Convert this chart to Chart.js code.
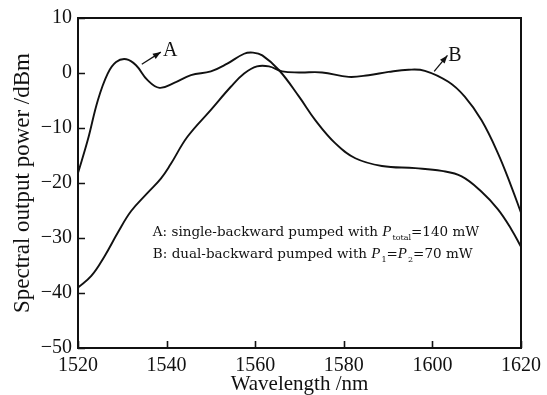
<!DOCTYPE html>
<html>
<head>
<meta charset="utf-8">
<script src="https://cdn.jsdelivr.net/npm/chart.js@4/dist/chart.umd.min.js"></script>
<style>
  html, body { margin: 0; padding: 0; background: #fff; }
  #wrap { width: 547px; height: 395px; position: relative; }
</style>
</head>
<body>
<div id="wrap"><canvas id="c" width="547" height="395"></canvas></div>
<script>
// ---- data ----
const wavelengthA = [1520, 1522.2, 1524.5, 1526.7, 1528.6, 1530.9, 1533.1, 1535.7, 1538.4, 1541.7, 1545.5, 1550, 1553.7, 1557.5, 1559.5, 1561.6, 1565.4, 1569.9, 1573.6, 1578.1, 1582.6, 1588.6, 1596.1, 1602.1, 1606.6, 1611.1, 1614.8, 1617.8, 1620];
const powerA      = [-18.2, -12.2, -4.9, -0.1, 2.0, 2.5, 1.4, -1.3, -2.7, -1.8, -0.4, 0.3, 1.7, 3.5, 3.7, 3.2, 0.5, -4.3, -8.6, -12.8, -15.5, -16.9, -17.3, -17.8, -18.8, -21.6, -24.8, -28.4, -31.6];
const wavelengthB = [1520, 1523, 1526, 1529, 1532, 1535.7, 1538.7, 1540.9, 1544.7, 1550, 1554.5, 1557.5, 1560.4, 1563.1, 1566.1, 1569.9, 1575.1, 1581.1, 1585.6, 1590.1, 1594.6, 1598.3, 1603.6, 1607.3, 1611.1, 1614.8, 1617.8, 1620];
const powerB      = [-39.0, -36.9, -33.3, -29.0, -25.1, -21.8, -19.2, -16.6, -11.6, -6.7, -2.5, -0.1, 1.2, 1.2, 0.3, 0.1, 0.1, -0.7, -0.4, 0.2, 0.6, 0.4, -1.6, -4.3, -8.6, -14.6, -20.6, -25.4];
const xTicks = [1520, 1540, 1560, 1580, 1600, 1620];
const yTicks = [10, 0, -10, -20, -30, -40, -50];
const xTitle = 'Wavelength /nm';
const yTitle = 'Spectral output power /dBm';
// annotation anchors in data units: [label, label x, label y, arrow tail x, tail y, arrow head x, head y]
const labelA = ['A', 1540.8, 4.2, 1534.4, 1.6, 1538.7, 3.8];
const labelB = ['B', 1605.1, 3.4, 1600.4, 0.3, 1603.4, 3.2];
const legendLines = [
  { pre: 'A: single-backward pumped with ', parts: [['P', 'total']], post: '=140 mW', x: 1536.9, y: -28.8 },
  { pre: 'B: dual-backward pumped with ', parts: [['P', '1'], '=', ['P', '2']], post: '=70 mW', x: 1536.9, y: -32.8 }
];

const SERIF = '"Liberation Serif", "DejaVu Serif", serif';
const SERIF2 = '"DejaVu Serif", "Liberation Serif", serif';
const toPts = (xs, ys) => xs.map((x, i) => ({ x: x, y: ys[i] }));
const fmt = v => String(v).replace('-', '\u2212');

const framePlugin = {
  id: 'frame',
  afterDatasetsDraw(chart) {
    const { ctx, chartArea: a, scales: { x, y } } = chart;
    ctx.save();
    ctx.strokeStyle = '#111';
    ctx.lineWidth = 2;
    ctx.strokeRect(a.left, a.top, a.right - a.left, a.bottom - a.top);
    ctx.lineWidth = 1.6;
    ctx.beginPath();
    xTicks.forEach(t => {
      const px = Math.round(x.getPixelForValue(t)) + 0.5;
      ctx.moveTo(px, a.bottom); ctx.lineTo(px, a.bottom - 7);
    });
    yTicks.forEach(t => {
      const py = Math.round(y.getPixelForValue(t)) + 0.5;
      ctx.moveTo(a.left, py); ctx.lineTo(a.left + 7, py);
    });
    ctx.stroke();

    // arrow labels
    ctx.fillStyle = '#111';
    [labelA, labelB].forEach(l => {
      const lx = x.getPixelForValue(l[1]), ly = y.getPixelForValue(l[2]);
      const tx = x.getPixelForValue(l[3]), ty = y.getPixelForValue(l[4]);
      const hx = x.getPixelForValue(l[5]), hy = y.getPixelForValue(l[6]);
      ctx.font = '20px ' + SERIF;
      ctx.textAlign = 'center';
      ctx.textBaseline = 'middle';
      ctx.fillText(l[0], lx, ly + 1);
      ctx.lineWidth = 1.3;
      ctx.beginPath(); ctx.moveTo(tx, ty); ctx.lineTo(hx, hy); ctx.stroke();
      const ang = Math.atan2(hy - ty, hx - tx);
      const L = 8, W = 3;
      ctx.beginPath();
      ctx.moveTo(hx, hy);
      ctx.lineTo(hx - L * Math.cos(ang) + W * Math.sin(ang), hy - L * Math.sin(ang) - W * Math.cos(ang));
      ctx.lineTo(hx - L * Math.cos(ang) - W * Math.sin(ang), hy - L * Math.sin(ang) + W * Math.cos(ang));
      ctx.closePath(); ctx.fill();
    });

    // legend text
    ctx.textAlign = 'left';
    ctx.textBaseline = 'alphabetic';
    legendLines.forEach(line => {
      let px = x.getPixelForValue(line.x);
      const py = y.getPixelForValue(line.y) + 5;
      ctx.font = '13.5px ' + SERIF2;
      ctx.fillText(line.pre, px, py); px += ctx.measureText(line.pre).width;
      line.parts.forEach(p => {
        if (typeof p === 'string') {
          ctx.font = '13.5px ' + SERIF2;
          ctx.fillText(p, px, py); px += ctx.measureText(p).width;
        } else {
          ctx.font = 'italic 15px ' + SERIF;
          ctx.fillText(p[0], px, py); px += ctx.measureText(p[0]).width + 1;
          ctx.font = '8px ' + SERIF2;
          ctx.fillText(p[1], px, py + 4); px += ctx.measureText(p[1]).width;
        }
      });
      ctx.font = '13.5px ' + SERIF2;
      ctx.fillText(line.post, px, py);
    });
    ctx.restore();
  }
};

new Chart(document.getElementById('c'), {
  type: 'line',
  data: {
    datasets: [
      { label: 'A', data: toPts(wavelengthA, powerA), borderColor: '#111', borderWidth: 1.9, pointRadius: 0, fill: false, tension: 0.4 },
      { label: 'B', data: toPts(wavelengthB, powerB), borderColor: '#111', borderWidth: 1.9, pointRadius: 0, fill: false, tension: 0.4 }
    ]
  },
  options: {
    responsive: false,
    animation: false,
    events: [],
    layout: { padding: { left: 0, right: 24, top: 17, bottom: 0 } },
    plugins: { legend: { display: false }, tooltip: { enabled: false } },
    scales: {
      x: {
        type: 'linear', min: 1520, max: 1620,
        afterBuildTicks: s => { s.ticks = xTicks.map(v => ({ value: v })); },
        afterFit: s => { s.height = 47; },
        grid: { display: false, drawTicks: false },
        border: { display: false },
        ticks: { color: '#111', font: { family: SERIF, size: 20 }, padding: 6, maxRotation: 0, callback: v => fmt(v) },
        title: { display: true, text: xTitle, color: '#111', font: { family: SERIF, size: 21, lineHeight: 1 }, padding: { top: 0, bottom: 0 } }
      },
      y: {
        type: 'linear', min: -50, max: 10,
        afterBuildTicks: s => { s.ticks = yTicks.map(v => ({ value: v })); },
        afterFit: s => { s.width = 78; },
        grid: { display: false, drawTicks: false },
        border: { display: false },
        ticks: { color: '#111', font: { family: SERIF, size: 20 }, padding: 6, callback: v => fmt(v) },
        title: { display: true, text: yTitle, color: '#111', font: { family: SERIF, size: 23 }, padding: { top: 9, bottom: 0 } }
      }
    }
  },
  plugins: [framePlugin]
});
</script>
</body>
</html>
